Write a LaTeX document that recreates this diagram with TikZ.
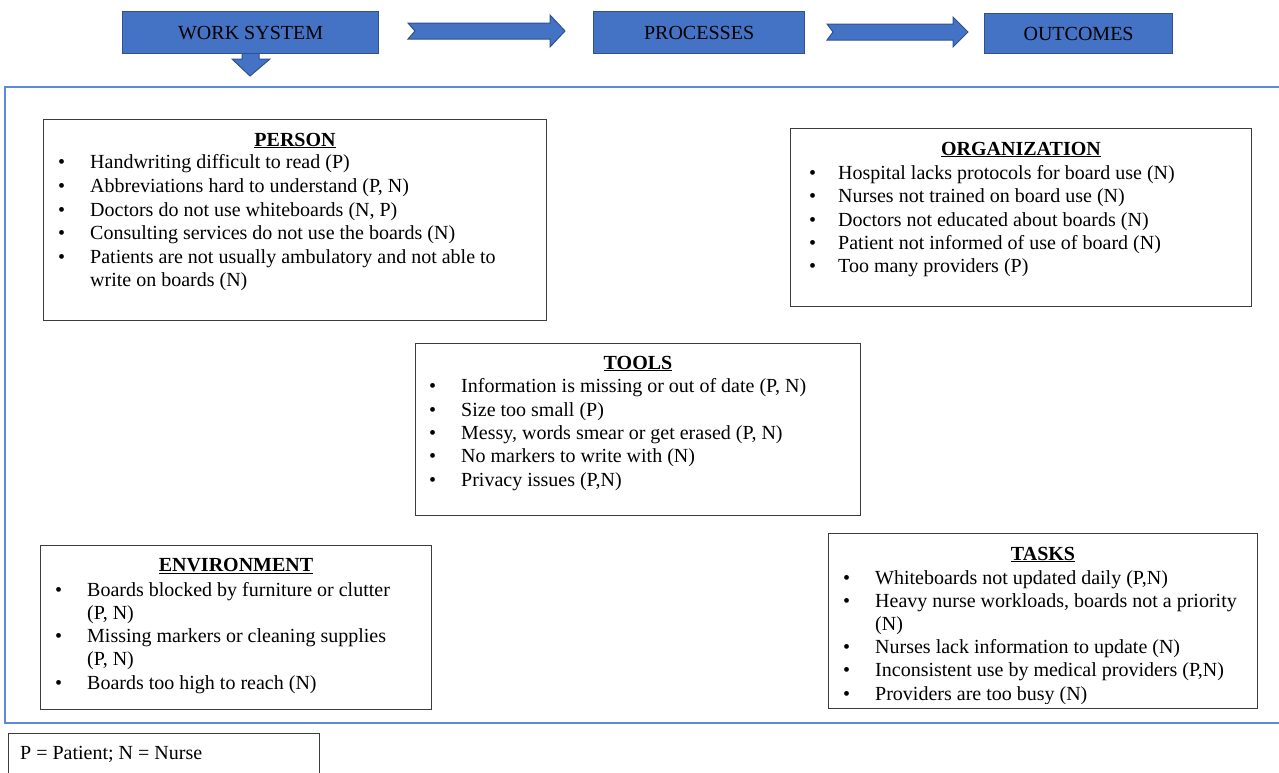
\documentclass[tikz,border=0pt]{standalone}
\usepackage{fontspec}
\setmainfont{Liberation Serif}
\definecolor{hdrfill}{HTML}{4472C4}
\definecolor{hdrline}{HTML}{2F528F}
\definecolor{framecol}{HTML}{5B8AD6}
\definecolor{boxline}{HTML}{3C3C3C}
\begin{document}
\begin{tikzpicture}[x=1pt,y=-1pt,
  font=\fontsize{20}{24}\selectfont,
  hdr/.style={draw=hdrline, fill=hdrfill, line width=1.2pt, inner sep=0pt, anchor=north west, text=black!90},
  hdrarrow/.style={draw=hdrline, fill=hdrfill, line width=1pt, line join=miter},
  panel/.style={draw=boxline, line width=1.2pt, inner sep=0pt, anchor=north west},
  item/.style={anchor=base west, inner sep=0pt},
  ttl/.style={anchor=base, inner sep=0pt, font=\fontsize{20}{24}\selectfont\bfseries},
  frameline/.style={draw=framecol, line width=1.3pt}]
\useasboundingbox (0,0) rectangle (1279,772);

% outer frame
\draw[frameline] (1300,87) -- (5,87) -- (5,723) -- (1300,723);

% header arrows
\draw[hdrarrow] (242,50) -- (259,50) -- (259,59) -- (270,59) -- (250,76) -- (232,59) -- (242,59) -- cycle;
\draw[hdrarrow] (408,23) -- (550,23) -- (550,15) -- (565,31) -- (550,47) -- (550,39) -- (408,39) -- (415,31) -- cycle;
\draw[hdrarrow] (827,24) -- (953,24) -- (953,17) -- (968,32) -- (953,47) -- (953,40) -- (827,40) -- (833,32) -- cycle;

% header boxes
\node[hdr, minimum width=256pt, minimum height=42pt] (ws) at (122,11) {};
\node at (ws.center) {WORK SYSTEM};
\node[hdr, minimum width=211pt, minimum height=42pt] (proc) at (593,11) {};
\node at (proc.center) {PROCESSES};
\node[hdr, minimum width=188pt, minimum height=40pt] (outc) at (984,13) {};
\node at (outc.center) {OUTCOMES};

% PERSON
\node[panel, minimum width=503pt, minimum height=201pt] (person) at (43,119) {};
\node[ttl] (pt) at (295,146) {\underline{PERSON}};
\foreach \y/\t [count=\i] in {168/{Handwriting difficult to read (P)},
  192/{Abbreviations hard to understand (P, N)},
  216/{Doctors do not use whiteboards (N, P)},
  239/{Consulting services do not use the boards (N)},
  263/{Patients are not usually ambulatory and not able to}}{
  \node[item] (pb\i) at (58,\y) {•};
  \node[item] (pl\i) at (90,\y) {\t};
}
\node[item] (pl6) at (90,286) {write on boards (N)};

% ORGANIZATION
\node[panel, minimum width=461pt, minimum height=178pt] (org) at (790,128) {};
\node[ttl] (ot) at (1021,155) {\underline{ORGANIZATION}};
\foreach \y/\t [count=\i] in {179/{Hospital lacks protocols for board use (N)},
  202/{Nurses not trained on board use (N)},
  226/{Doctors not educated about boards (N)},
  249/{Patient not informed of use of board (N)},
  272/{Too many providers (P)}}{
  \node[item] (ob\i) at (809,\y) {•};
  \node[item] (ol\i) at (838,\y) {\t};
}

% TOOLS
\node[panel, minimum width=445pt, minimum height=172pt] (tools) at (415,343) {};
\node[ttl] (tt) at (638,369) {\underline{TOOLS}};
\foreach \y/\t [count=\i] in {392/{Information is missing or out of date (P, N)},
  416/{Size too small (P)},
  439/{Messy, words smear or get erased (P, N)},
  462/{No markers to write with (N)},
  486/{Privacy issues (P,N)}}{
  \node[item] (tb\i) at (429,\y) {•};
  \node[item] (tl\i) at (461,\y) {\t};
}

% ENVIRONMENT
\node[panel, minimum width=391pt, minimum height=164pt] (env) at (40,545) {};
\node[ttl] (et) at (236,571) {\underline{ENVIRONMENT}};
\node[item] (eb1) at (55,596) {•};
\node[item] (el1) at (87,596) {Boards blocked by furniture or clutter};
\node[item] (el2) at (87,619) {(P, N)};
\node[item] (eb2) at (55,642) {•};
\node[item] (el3) at (87,642) {Missing markers or cleaning supplies};
\node[item] (el4) at (87,665) {(P, N)};
\node[item] (eb3) at (55,689) {•};
\node[item] (el5) at (87,689) {Boards too high to reach (N)};

% TASKS
\node[panel, minimum width=429pt, minimum height=175pt] (tasks) at (828,533) {};
\node[ttl] (kt) at (1043,560) {\underline{TASKS}};
\node[item] (kb1) at (843,584) {•};
\node[item] (kl1) at (875,584) {Whiteboards not updated daily (P,N)};
\node[item] (kb2) at (843,607) {•};
\node[item] (kl2) at (875,607) {Heavy nurse workloads, boards not a priority};
\node[item] (kl3) at (875,630) {(N)};
\node[item] (kb3) at (843,653) {•};
\node[item] (kl4) at (875,653) {Nurses lack information to update (N)};
\node[item] (kb4) at (843,676) {•};
\node[item] (kl5) at (875,676) {Inconsistent use by medical providers (P,N)};
\begin{scope}
  \clip (829,533) rectangle (1256,703);
  \node[item] (kb5) at (843,700) {•};
  \node[item] (kl6) at (875,700) {Providers are too busy (N)};
\end{scope}

% legend
\node[panel, minimum width=311pt, minimum height=60pt] (legend) at (8,733) {};
\node[item] (lg) at (20,759) {P = Patient; N = Nurse};
\end{tikzpicture}
\end{document}
